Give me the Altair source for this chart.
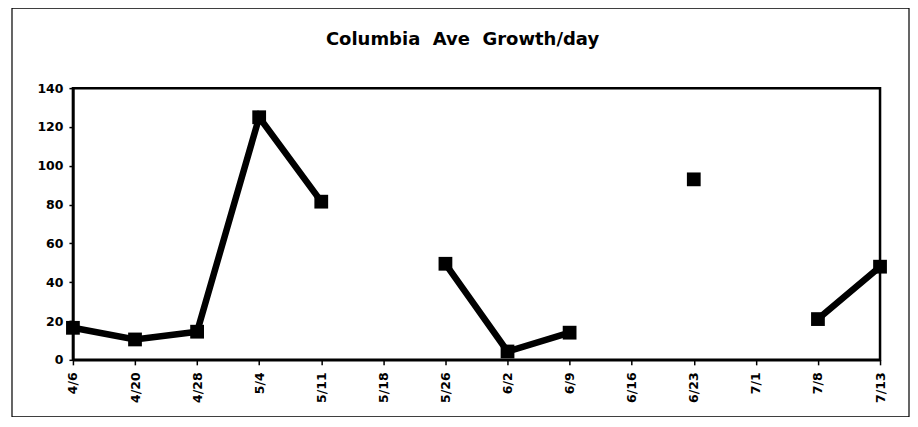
import altair as alt
import pandas as pd

dates = ["4/6", "4/20", "4/28", "5/4", "5/11", "5/18", "5/26", "6/2", "6/9",
         "6/16", "6/23", "7/1", "7/8", "7/13"]
growth = [16.5, 10.5, 14.5, 125, 81.5, None, 49.5, 4.3, 14, None, 93, None, 21, 48]
title_text = "Columbia\u00a0\u00a0Ave\u00a0\u00a0Growth/day"

df = pd.DataFrame({"date": dates, "growth": growth})

FONT = "DejaVu Sans"
W, H = 808, 272

x = alt.X("date:N", sort=dates, scale=alt.Scale(type="point", padding=0, domain=dates),
          axis=alt.Axis(title=None, labelAngle=-90, labelFontWeight="bold", labelFontSize=12.5,
                        labelFont=FONT, labelColor="black", tickColor="black", tickSize=5,
                        tickWidth=1.5, domainColor="black", domainWidth=2.5, labelPadding=7,
                        grid=False))
y = alt.Y("growth:Q", scale=alt.Scale(domain=[0, 140], nice=False),
          axis=alt.Axis(title=None, values=list(range(0, 141, 20)), labelFontWeight="bold",
                        labelFontSize=12.5, labelFont=FONT, labelColor="black", tickColor="black",
                        tickSize=4, tickWidth=1.5, domainColor="black", domainWidth=2.5,
                        labelPadding=6, grid=False))

base = alt.Chart(df)
line = base.mark_line(color="black", strokeWidth=6.5).encode(x=x, y=y)
pts = base.mark_point(shape="square", filled=True, color="black", size=190, opacity=1).encode(x=x, y=y)

frame = alt.Chart(pd.DataFrame({"a": [0]})).mark_rect(
    fill=None, stroke="black", strokeWidth=1.2, clip=False
).encode(x=alt.value(-61), x2=alt.value(837), y=alt.value(-80), y2=alt.value(329))

border = alt.Chart(pd.DataFrame({"a": [0]})).mark_rect(
    fill=None, stroke="black", strokeWidth=2.5, clip=False
).encode(x=alt.value(0), x2=alt.value(W), y=alt.value(0), y2=alt.value(H))

title = alt.Chart(pd.DataFrame({"t": [title_text]})).mark_text(
    font=FONT, fontSize=18, fontWeight="bold", color="black", align="center",
    baseline="alphabetic", clip=False
).encode(text="t:N", x=alt.value(W / 2 - 14), y=alt.value(-43))

chart = alt.layer(frame, border, title, line, pts).properties(
    width=W, height=H,
    padding={"left": 65, "top": 80, "right": 30, "bottom": 57},
    autosize=alt.AutoSizeParams(type="none"),
).configure_view(stroke=None).configure(background="white")

chart.save("out.html", embed_options={"renderer": "svg", "actions": False})
